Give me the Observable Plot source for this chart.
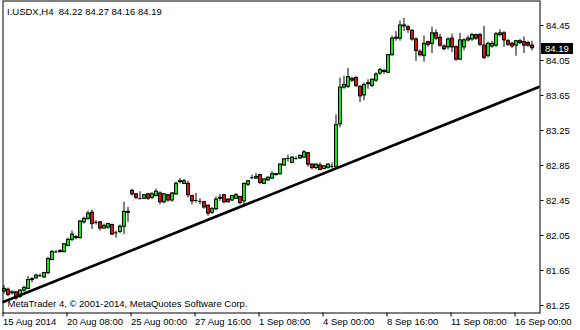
<!DOCTYPE html>
<html><head><meta charset="utf-8">
<script src="https://cdn.jsdelivr.net/npm/d3@7"></script>
<script src="https://cdn.jsdelivr.net/npm/@observablehq/plot@0.6"></script>
<style>
body{margin:0;background:#fff}
#chart{width:580px;height:330px;position:relative}
#chart svg{display:block}
#price{position:absolute;background:#000;color:#fff;font:9.5px "Liberation Sans",Arial,sans-serif;line-height:11px;height:11px;padding:0 0 0 4px;box-sizing:border-box;width:32px}
</style>
</head><body><div id="chart"></div>
<script>
const title = "I.USDX,H4  84.22 84.27 84.16 84.19";
const copyright = "MetaTrader 4, \u00A9 2001-2014, MetaQuotes Software Corp.";

const open = [81.41,81.43,81.39,81.40,81.35,81.42,81.44,81.54,81.56,81.59,
81.57,81.62,81.77,81.86,81.86,81.86,81.93,82.00,82.03,82.02,
82.20,82.24,82.31,82.20,82.20,82.13,82.14,82.17,82.08,82.09,
82.15,82.31,82.56,82.52,82.47,82.47,82.52,82.48,82.50,82.53,
82.43,82.51,82.45,82.52,82.66,82.64,82.64,82.50,82.45,82.44,
82.43,82.39,82.31,82.35,82.47,82.51,82.46,82.45,82.47,82.49,
82.44,82.63,82.71,82.70,82.74,82.64,82.68,82.70,82.74,82.75,
82.85,82.93,82.88,82.93,82.93,82.94,82.99,82.86,82.82,82.85,
82.81,82.82,82.84,82.83,83.32,83.74,83.75,83.84,83.85,83.75,
83.65,83.78,83.76,83.82,83.90,83.93,83.91,84.11,84.30,84.30,
84.45,84.43,84.39,84.29,84.15,84.10,84.26,84.24,84.36,84.31,
84.21,84.20,84.30,84.20,84.06,84.20,84.28,84.29,84.34,84.34,
84.22,84.10,84.21,84.22,84.34,84.36,84.27,84.24,84.22,84.27,
84.26,84.25,84.22];
const high = [81.48,81.45,81.42,81.41,81.43,81.47,81.58,81.57,81.61,81.61,
81.63,81.80,81.88,81.88,81.89,81.96,82.02,82.10,82.05,82.22,
82.26,82.33,82.34,82.22,82.21,82.18,82.19,82.18,82.10,82.17,
82.43,82.37,82.58,82.53,82.55,82.52,82.53,82.54,82.58,82.55,
82.53,82.52,82.54,82.66,82.70,82.69,82.67,82.51,82.53,82.47,
82.44,82.40,82.37,82.49,82.52,82.52,82.47,82.51,82.53,82.50,
82.65,82.68,82.74,82.76,82.75,82.70,82.72,82.78,82.76,82.87,
82.93,82.97,82.95,82.95,82.97,83.02,83.00,82.87,82.87,82.88,
82.85,82.87,82.88,83.43,83.85,83.87,83.96,83.86,83.87,83.76,
83.79,83.83,83.84,83.91,83.96,83.95,84.12,84.33,84.38,84.50,
84.53,84.45,84.40,84.31,84.17,84.33,84.27,84.43,84.40,84.35,
84.23,84.31,84.35,84.22,84.36,84.30,84.33,84.36,84.35,84.36,
84.44,84.26,84.27,84.37,84.40,84.38,84.29,84.26,84.28,84.29,
84.32,84.27,84.27];
const low = [81.38,81.35,81.37,81.31,81.33,81.40,81.43,81.51,81.55,81.57,
81.56,81.60,81.76,81.85,81.85,81.85,81.92,81.98,82.00,82.01,
82.18,82.22,82.12,82.17,82.10,82.12,82.12,82.05,82.02,82.07,
82.06,82.20,82.50,82.46,82.46,82.46,82.45,82.46,82.49,82.40,
82.41,82.43,82.43,82.51,82.64,82.63,82.48,82.40,82.42,82.40,
82.35,82.27,82.29,82.33,82.44,82.41,82.42,82.44,82.46,82.40,
82.40,82.61,82.69,82.69,82.63,82.63,82.67,82.69,82.73,82.74,
82.84,82.89,82.87,82.91,82.92,82.93,82.83,82.80,82.80,82.79,
82.80,82.81,82.81,82.82,83.28,83.72,83.73,83.80,83.74,83.57,
83.59,83.72,83.74,83.80,83.88,83.89,83.90,84.10,84.27,84.27,
84.38,84.36,84.27,84.04,84.09,84.03,84.20,84.13,84.28,84.20,
84.16,84.17,84.14,84.04,84.05,84.16,84.26,84.27,84.28,84.21,
84.06,84.08,84.19,84.20,84.32,84.20,84.21,84.19,84.10,84.23,
84.13,84.20,84.16];
const close = [81.44,81.37,81.40,81.33,81.42,81.45,81.54,81.55,81.59,81.59,
81.62,81.78,81.86,81.86,81.87,81.95,82.00,82.06,82.02,82.21,
82.24,82.30,82.18,82.20,82.13,82.16,82.18,82.06,82.08,82.15,
82.32,82.32,82.52,82.48,82.47,82.51,82.47,82.52,82.55,82.43,
82.52,82.45,82.53,82.64,82.67,82.67,82.51,82.44,82.45,82.44,
82.37,82.30,82.35,82.46,82.48,82.43,82.43,82.50,82.51,82.42,
82.64,82.67,82.71,82.72,82.65,82.69,82.71,82.75,82.75,82.86,
82.92,82.93,82.94,82.93,82.96,83.00,82.86,82.82,82.86,82.80,
82.84,82.86,82.84,83.31,83.74,83.77,83.86,83.82,83.76,83.64,
83.77,83.79,83.83,83.89,83.94,83.92,84.11,84.30,84.31,84.45,
84.44,84.40,84.29,84.16,84.11,84.24,84.23,84.36,84.30,84.22,
84.18,84.29,84.20,84.06,84.28,84.28,84.30,84.34,84.30,84.23,
84.08,84.24,84.24,84.35,84.36,84.28,84.23,84.21,84.27,84.25,
84.22,84.22,84.19];

const dateTicks = [0,16,32,48,64,80,96,112,128];
const dateLabels = ["15 Aug 2014","20 Aug 08:00","25 Aug 00:00","27 Aug 16:00","1 Sep 08:00","4 Sep 00:00","8 Sep 16:00","11 Sep 08:00","16 Sep 00:00"];
const priceTicks = [84.45,84.05,83.65,83.25,82.85,82.45,82.05,81.65,81.25];
const trendBars = [-0.2, 134];
const trendPrices = [81.29, 83.753];

const bullColor = "#10e810";
const bearColor = "#d81414";

const bars = open.map((o, i) => ({i, o, h: high[i], l: low[i], c: close[i]}));
const trend = trendBars.map((b, k) => ({b, p: trendPrices[k]}));
const isDoji = d => Math.abs(d.c - d.o) < 0.005;

const font = "Liberation Sans, Arial, sans-serif";

const chart = Plot.plot({
  width: 580,
  height: 330,
  marginLeft: 2.5,
  marginRight: 40.5,
  marginTop: 0.5,
  marginBottom: 17.5,
  style: {fontFamily: font, fontSize: "9.5px", background: "#fff", color: "#000", overflow: "visible"},
  x: {domain: [-0.25, 134], label: null, axis: null},
  y: {domain: [81.164, 84.73], label: null, axis: null},
  color: {type: "identity"},
  marks: [
    Plot.ruleX(bars, {x: "i", y1: "l", y2: "h", stroke: "#000", strokeWidth: 1}),
    Plot.rect(bars.filter(d => !isDoji(d)), {
      x1: d => d.i - 0.25, x2: d => d.i + 0.5,
      y1: "o", y2: "c",
      fill: d => d.c >= d.o ? bullColor : bearColor,
      stroke: "#000", strokeWidth: 1
    }),
    Plot.ruleY(bars.filter(isDoji), {y: "c", x1: d => d.i - 0.375, x2: d => d.i + 0.5, stroke: "#000", strokeWidth: 1}),
    Plot.line(trend, {x: "b", y: "p", stroke: "#000", strokeWidth: 2.6, clip: true}),
    Plot.frame({stroke: "#000", strokeWidth: 1}),
    Plot.axisY(priceTicks, {anchor: "right", tickSize: 3, tickPadding: 3, tickFormat: d => d.toFixed(2), fill: "#000"}),
    Plot.axisX(dateTicks, {anchor: "bottom", tickSize: 4, tickPadding: 1, textAnchor: "start", dx: -1,
      tickFormat: d => dateLabels[dateTicks.indexOf(d)], fill: "#000"}),
    Plot.text([title], {frameAnchor: "top-left", dx: 4, dy: 10.5, textAnchor: "start", lineAnchor: "middle", fill: "#000"}),
    Plot.text([copyright], {frameAnchor: "bottom-left", dx: 4.5, dy: -9.5, textAnchor: "start", lineAnchor: "middle", fill: "#000"})
  ]
});

const host = document.getElementById("chart");
host.appendChild(chart);

// current price label on the right axis, positioned through the y scale
const last = close[close.length - 1];
const yy = chart.scale("y").apply(last);
const tag = document.createElement("div");
tag.id = "price";
tag.textContent = last.toFixed(2);
tag.style.left = "541px";
tag.style.top = (Math.round(yy) - 5) + "px";
host.appendChild(tag);
</script>
</body></html>
